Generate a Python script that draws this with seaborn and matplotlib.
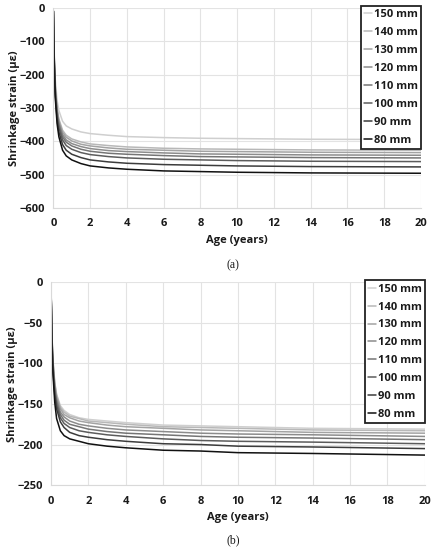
import matplotlib
matplotlib.use("Agg")
import matplotlib.pyplot as plt
import seaborn as sns
import pandas as pd

ages = [0, 0.05, 0.1, 0.2, 0.3, 0.5, 0.7, 1, 1.5, 2, 3, 4, 6, 8, 10, 14, 20]

labels = ["150 mm", "140 mm", "130 mm", "120 mm", "110 mm", "100 mm", "90 mm", "80 mm"]
colors = ["#cfcfcf", "#b8b8b8", "#a3a3a3", "#8c8c8c", "#757575", "#5c5c5c", "#3c3c3c", "#111111"]

# panel (a) shrinkage strain (με)
strain_a = {
    "150 mm": [-8, -142, -213, -277, -308, -340, -354, -363, -372, -377, -382, -386, -389, -391, -392, -394, -395],
    "140 mm": [-9, -154, -231, -299, -333, -367, -382, -393, -402, -408, -413, -417, -421, -423, -424, -426, -427],
    "130 mm": [-9, -156, -234, -304, -339, -373, -388, -399, -409, -414, -420, -424, -427, -430, -431, -433, -434],
    "120 mm": [-9, -159, -239, -309, -345, -380, -396, -407, -416, -422, -428, -431, -435, -438, -439, -441, -442],
    "110 mm": [-9, -162, -243, -315, -351, -387, -403, -414, -424, -430, -436, -439, -443, -446, -447, -449, -450],
    "100 mm": [-9, -166, -249, -323, -360, -396, -413, -424, -434, -440, -446, -450, -454, -456, -458, -460, -461],
    "90 mm": [-10, -172, -258, -334, -372, -410, -427, -439, -449, -456, -462, -466, -470, -472, -474, -476, -477],
    "80 mm": [-10, -179, -268, -347, -387, -427, -444, -456, -467, -474, -480, -484, -489, -491, -493, -495, -496],
}

# panel (b) shrinkage strain (με)
strain_b = {
    "150 mm": [-4, -63, -94, -123, -138, -152, -158, -163, -167, -169, -171, -173, -176, -177, -178, -180, -181],
    "140 mm": [-4, -64, -95, -124, -139, -154, -160, -165, -168, -171, -173, -175, -178, -179, -180, -182, -183],
    "130 mm": [-4, -65, -97, -126, -141, -156, -163, -167, -171, -173, -176, -178, -180, -182, -183, -185, -186],
    "120 mm": [-4, -67, -99, -129, -144, -160, -166, -171, -175, -177, -180, -182, -184, -186, -187, -188, -190],
    "110 mm": [-4, -68, -101, -132, -147, -163, -170, -175, -178, -181, -184, -186, -188, -190, -191, -192, -194],
    "100 mm": [-4, -70, -103, -135, -151, -167, -174, -179, -183, -185, -188, -190, -193, -195, -196, -197, -199],
    "90 mm": [-4, -72, -107, -139, -156, -172, -179, -185, -189, -191, -194, -196, -199, -200, -202, -203, -205],
    "80 mm": [-4, -75, -111, -148, -168, -183, -189, -193, -196, -199, -202, -204, -207, -208, -210, -211, -213],
}


def to_long(strain):
    rows = []
    for lab in labels:
        for t, v in zip(ages, strain[lab]):
            rows.append({"age": t, "strain": v, "thickness": lab})
    return pd.DataFrame(rows)


sns.set_theme(style="whitegrid")
plt.rcParams["font.family"] = ["Open Sans", "DejaVu Sans"]

fig = plt.figure(figsize=(4.34, 5.5), dpi=100)
ax_a = fig.add_axes([0.123, 0.622, 0.847, 0.3635])
ax_b = fig.add_axes([0.1175, 0.118, 0.8615, 0.3687])

palette = dict(zip(labels, colors))
fs = 8
txt = "#1a1a1a"

panels = [
    (ax_a, strain_a, (-600, 0), 100, "(a)", 0.518, -0.092),
    (ax_b, strain_b, (-250, 0), 50, "(b)", 0.018, -0.087),
]

for ax, strain, ylim, ystep, cap, cap_y, ylab_x in panels:
    df = to_long(strain)
    sns.lineplot(data=df, x="age", y="strain", hue="thickness", hue_order=labels,
                 palette=palette, linewidth=1.1, ax=ax, sort=False)
    ax.set_xlim(0, 20)
    ax.set_ylim(*ylim)
    ax.set_xticks(range(0, 21, 2))
    ax.set_yticks(range(ylim[0], 1, ystep))
    ax.grid(color="#e3e3e3", linewidth=0.8)
    for s in ["top", "right"]:
        ax.spines[s].set_visible(False)
    for s in ["left", "bottom"]:
        ax.spines[s].set_color("#d9d9d9")
        ax.spines[s].set_linewidth(0.8)
    ax.tick_params(axis="x", length=0, labelsize=fs, pad=7.5, colors=txt)
    ax.tick_params(axis="y", length=0, labelsize=fs, pad=6, colors=txt)
    for t in ax.get_xticklabels() + ax.get_yticklabels():
        t.set_fontweight("bold")
    ax.set_xlabel("Age (years)", fontsize=fs, fontweight="bold", labelpad=4, color=txt)
    ax.set_ylabel("Shrinkage strain (με)", fontsize=fs, fontweight="bold", color=txt)
    ax.yaxis.set_label_coords(ylab_x, 0.5)

    leg = ax.legend(loc="upper right", bbox_to_anchor=(1.0, 1.01), fontsize=fs,
                    frameon=True, fancybox=False, framealpha=1, edgecolor="#222222",
                    handlelength=0.7, handletextpad=0.15, labelspacing=0.62,
                    borderpad=0.3, borderaxespad=0.0, title=None)
    leg.get_frame().set_linewidth(1.3)
    for t in leg.get_texts():
        t.set_fontweight("bold")
        t.set_color(txt)

    fig.text(0.537, cap_y, cap, ha="center", va="center", fontsize=8.5,
             family="Liberation Serif", color=txt)

fig.savefig("out.png", dpi=100)
